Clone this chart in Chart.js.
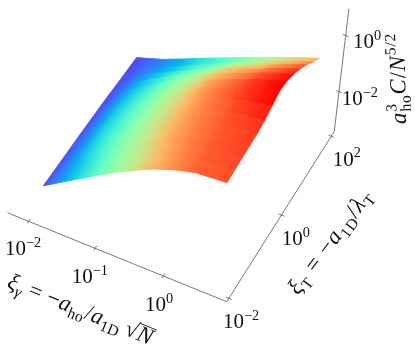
<!DOCTYPE html>
<html lang="en">
<head>
    <meta charset="UTF-8">
    <title>Contact surface</title>
    <script src="https://cdn.jsdelivr.net/npm/chart.js"></script>
    <style>
        html, body { margin: 0; padding: 0; background: #fff; }
        canvas { display: block; }
    </style>
</head>
<body>
<canvas id="surfaceChart" width="415" height="345"></canvas>

<script>
// log10 of xi_gamma (columns) and xi_T (rows)
const logXiGamma = [-2.00, -1.86, -1.72, -1.58, -1.44, -1.30, -1.16, -1.02, -0.88, -0.74,
                    -0.60, -0.46, -0.32, -0.18, -0.04, 0.10, 0.24, 0.38, 0.52, 0.66];
const logXiT = [-1.50, -1.24, -0.98, -0.72, -0.46, -0.20, 0.06, 0.32, 0.58, 0.84, 1.10, 1.36, 1.62, 1.90];

// log10 of a_ho^3 C / N^(5/2), one row per xi_T
const logC = [
    [-3.03, -2.81, -2.59, -2.37, -2.15, -1.94, -1.72, -1.51, -1.30, -1.12, -0.93, -0.74, -0.58, -0.44, -0.31, -0.21, -0.12, -0.09, -0.06, -0.04],
    [-3.03, -2.81, -2.59, -2.37, -2.15, -1.94, -1.72, -1.50, -1.29, -1.11, -0.92, -0.73, -0.57, -0.42, -0.29, -0.19, -0.09, -0.06, -0.02, 0.00],
    [-3.03, -2.81, -2.57, -2.32, -2.09, -1.88, -1.66, -1.45, -1.24, -1.06, -0.86, -0.67, -0.50, -0.38, -0.25, -0.17, -0.07, -0.03, 0.01, 0.04],
    [-3.03, -2.81, -2.54, -2.27, -2.04, -1.83, -1.61, -1.40, -1.18, -1.00, -0.81, -0.61, -0.45, -0.33, -0.22, -0.15, -0.05, -0.01, 0.03, 0.06],
    [-3.03, -2.81, -2.54, -2.26, -2.04, -1.83, -1.61, -1.39, -1.18, -1.00, -0.80, -0.61, -0.44, -0.32, -0.22, -0.14, -0.04, 0.00, 0.05, 0.08],
    [-3.03, -2.81, -2.54, -2.26, -2.04, -1.83, -1.60, -1.39, -1.18, -0.99, -0.79, -0.59, -0.42, -0.30, -0.18, -0.11, 0.01, 0.06, 0.12, 0.16],
    [-3.03, -2.81, -2.54, -2.27, -2.05, -1.83, -1.61, -1.39, -1.18, -0.99, -0.79, -0.58, -0.40, -0.27, -0.15, -0.06, 0.07, 0.14, 0.22, 0.28],
    [-3.04, -2.82, -2.55, -2.29, -2.07, -1.86, -1.63, -1.41, -1.20, -1.01, -0.81, -0.59, -0.40, -0.26, -0.13, -0.02, 0.13, 0.22, 0.32, 0.41],
    [-3.04, -2.84, -2.58, -2.33, -2.11, -1.91, -1.69, -1.48, -1.27, -1.09, -0.89, -0.68, -0.49, -0.35, -0.22, -0.10, 0.06, 0.17, 0.28, 0.38],
    [-3.05, -2.86, -2.62, -2.38, -2.18, -1.99, -1.78, -1.58, -1.38, -1.21, -1.02, -0.81, -0.64, -0.50, -0.37, -0.25, -0.10, 0.02, 0.14, 0.24],
    [-3.07, -2.90, -2.68, -2.47, -2.28, -2.10, -1.91, -1.73, -1.54, -1.38, -1.20, -1.01, -0.84, -0.71, -0.58, -0.47, -0.31, -0.18, -0.06, 0.06],
    [-3.08, -2.94, -2.77, -2.60, -2.43, -2.27, -2.10, -1.93, -1.76, -1.60, -1.44, -1.26, -1.11, -0.97, -0.83, -0.70, -0.55, -0.42, -0.29, -0.17],
    [-3.09, -2.97, -2.84, -2.72, -2.57, -2.42, -2.27, -2.11, -1.96, -1.82, -1.67, -1.51, -1.37, -1.23, -1.09, -0.95, -0.81, -0.67, -0.56, -0.44],
    [-3.10, -3.00, -2.89, -2.79, -2.65, -2.52, -2.38, -2.24, -2.10, -1.97, -1.83, -1.69, -1.57, -1.44, -1.31, -1.18, -1.06, -0.93, -0.82, -0.71]
];

// axis limits and ticks, in decades
const gammaRange = [-2.32, 0.91];
const trapRange = [-2.08, 2.12];
const heightRange = [-3.54, 0.89];
const gammaTicks = [-2, -1, 0];
const trapTicks = [-2, 0, 2];
const heightTicks = [-2, 0];

// colour limits of the surface
const colorRange = [-3.41, 0.36];

const ctx2d = document.getElementById('surfaceChart').getContext('2d');

// camera: three vanishing points turned into one projective map
function project(u, v, w) {
    const U = u - 0.91, V = v + 2.08, W = w + 3.54;
    const D = 1 - 0.01216 * U + 0.01348 * V - 0.0235 * W;
    return {
        x: 226.7 + (70.5 * U + 27.05 * V + 0.627 * W) / D,
        y: 301.7 + (28.6 * U - 42.8 * V - 22.4 * W) / D
    };
}

// matplotlib "rainbow"
function rainbow(value) {
    const t = Math.min(1, Math.max(0, (value - colorRange[0]) / (colorRange[1] - colorRange[0])));
    const r = Math.abs(2 * t - 0.5);
    const g = Math.sin(Math.PI * t);
    const b = Math.cos(Math.PI * t / 2);
    return `rgb(${Math.round(Math.min(1, r) * 255)},${Math.round(g * 255)},${Math.round(b * 255)})`;
}

// gradient whose colour lines run along the cell's xi_T edges, so rows join up
function cellGradient(p, fromValue, toValue) {
    const left = { x: (p[0].x + p[3].x) / 2, y: (p[0].y + p[3].y) / 2 };
    const right = { x: (p[1].x + p[2].x) / 2, y: (p[1].y + p[2].y) / 2 };
    let ex = p[3].x - p[0].x + p[2].x - p[1].x;
    let ey = p[3].y - p[0].y + p[2].y - p[1].y;
    const len = Math.hypot(ex, ey);
    ex /= len;
    ey /= len;
    const across = (right.x - left.x) * -ey + (right.y - left.y) * ex;
    const gradient = ctx2d.createLinearGradient(left.x, left.y, left.x - ey * across, left.y + ex * across);
    gradient.addColorStop(0, rainbow(fromValue));
    gradient.addColorStop(1, rainbow(toValue));
    return gradient;
}

const datasets = [];

function addLine(points) {
    datasets.push({
        type: 'line',
        data: points,
        borderColor: '#555',
        borderWidth: 0.8,
        pointRadius: 0,
        fill: false,
        tension: 0
    });
}

// axes
addLine([project(gammaRange[0], trapRange[0], heightRange[0]),
         project(gammaRange[1], trapRange[0], heightRange[0]),
         project(gammaRange[1], trapRange[1], heightRange[0]),
         project(gammaRange[1], trapRange[1], heightRange[1])]);

// ticks straddle the axis
gammaTicks.forEach(t => addLine([project(t, trapRange[0] - 0.05, heightRange[0]), project(t, trapRange[0] + 0.06, heightRange[0])]));
trapTicks.forEach(t => addLine([project(gammaRange[1] - 0.04, t, heightRange[0]), project(gammaRange[1] + 0.04, t, heightRange[0])]));
heightTicks.forEach(t => addLine([project(gammaRange[1] - 0.04, trapRange[1], t), project(gammaRange[1] + 0.04, trapRange[1], t)]));

// surface, one filled quad per grid cell
for (let j = 0; j < logXiT.length - 1; j++) {
    for (let i = 0; i < logXiGamma.length - 1; i++) {
        const corners = [[i, j], [i + 1, j], [i + 1, j + 1], [i, j + 1]];
        const points = corners.map(c => project(logXiGamma[c[0]], logXiT[c[1]], logC[c[1]][c[0]]));
        const gradient = cellGradient(points,
            (logC[j][i] + logC[j + 1][i]) / 2,
            (logC[j][i + 1] + logC[j + 1][i + 1]) / 2);
        datasets.push({
            type: 'line',
            data: points.concat([points[0]]),
            borderColor: gradient,
            backgroundColor: gradient,
            borderWidth: 0.8,
            pointRadius: 0,
            fill: 'shape',
            tension: 0
        });
    }
}

// text runs: [string, style]; i italic, b sub, p sup, q sup stacked on the previous sub
function tickRuns(exponent) {
    return [['10', ''], [String(exponent).replace('-', '\u2212'), 'p']];
}

const gammaTitle = [['\u03BE', 'i'], ['\u03B3', 'ib'], [' = \u2212', ''], ['a', 'i'], ['ho', 'b'], ['/', ''],
                    ['a', 'i'], ['1D', 'b'], ['\u2009\u221A', ''], ['N', 'io']];
const trapTitle = [['\u03BE', 'i'], ['T', 'b'], [' = \u2212', ''], ['a', 'i'], ['1D', 'b'], ['/', ''], ['\u03BB', 'i'], ['T', 'b']];
const heightTitle = [['a', 'i'], ['ho', 'b'], ['3', 'q'], ['C', 'i'], ['/', ''], ['N', 'i'], ['5/2', 'p']];

const labels = [
    { runs: tickRuns(-2), x: 5, y: 255, angle: 0, size: 21 },
    { runs: tickRuns(-1), x: 71.7, y: 283, angle: 0, size: 21 },
    { runs: tickRuns(0), x: 145, y: 311, angle: 0, size: 21 },
    { runs: tickRuns(-2), x: 223, y: 328, angle: 0, size: 21 },
    { runs: tickRuns(0), x: 281.7, y: 245, angle: 0, size: 21 },
    { runs: tickRuns(2), x: 332.7, y: 165.7, angle: 0, size: 21 },
    { runs: tickRuns(-2), x: 341.7, y: 105, angle: 0, size: 21 },
    { runs: tickRuns(0), x: 353, y: 48, angle: 0, size: 21 },
    { runs: gammaTitle, x: 6, y: 287, angle: 22, size: 23, spacing: 0.3 },
    { runs: trapTitle, x: 298, y: 296, angle: -53, size: 23, spacing: 1 },
    { runs: heightTitle, x: 406, y: 124, angle: -91, size: 23, spacing: 0.8 }
];

const mathText = {
    id: 'mathText',
    afterDraw(chart) {
        const ctx = chart.ctx;
        ctx.fillStyle = '#111';
        ctx.strokeStyle = '#111';
        ctx.textBaseline = 'alphabetic';
        labels.forEach(label => {
            ctx.save();
            ctx.translate(label.x, label.y);
            ctx.rotate(label.angle * Math.PI / 180);
            ctx.letterSpacing = (label.spacing || 0) + 'px';
            let pen = 0;
            let stacked = 0;
            label.runs.forEach(([text, style], k) => {
                const small = /[bpq]/.test(style);
                const size = small ? label.size * 0.68 : label.size;
                ctx.font = (style.includes('i') ? 'italic ' : '') + size + 'px "Liberation Serif"';
                let dy = 0;
                if (style.includes('b')) dy = label.size * 0.22;
                if (style.includes('p') || style.includes('q')) dy = -label.size * 0.4;
                ctx.fillText(text, pen, dy);
                const width = ctx.measureText(text).width;
                if (style.includes('o')) {
                    ctx.lineWidth = 0.9;
                    ctx.beginPath();
                    ctx.moveTo(pen - 1, -label.size * 0.72);
                    ctx.lineTo(pen + width + 1, -label.size * 0.72);
                    ctx.stroke();
                }
                // the 3 of a_ho^3 sits over the subscript
                if (label.runs[k + 1] && label.runs[k + 1][1] === 'q') {
                    stacked = width;
                    return;
                }
                pen += Math.max(width, stacked);
                stacked = 0;
            });
            ctx.restore();
        });
    }
};

new Chart(ctx2d, {
    type: 'line',
    data: { datasets: datasets },
    options: {
        responsive: false,
        animation: false,
        parsing: false,
        normalized: true,
        layout: { padding: 0 },
        scales: {
            x: { type: 'linear', min: 0, max: 415, display: false },
            y: { type: 'linear', min: 0, max: 345, reverse: true, display: false }
        },
        plugins: {
            legend: { display: false },
            tooltip: { enabled: false },
            filler: { propagate: false }
        }
    },
    plugins: [mathText]
});
</script>
</body>
</html>
